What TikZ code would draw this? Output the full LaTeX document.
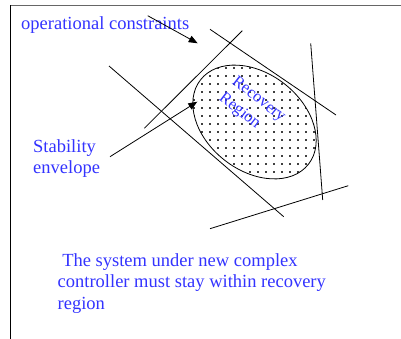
\documentclass[tikz,border=0pt]{standalone}
\usepackage{fontspec}
\setmainfont{Liberation Serif}
\usetikzlibrary{arrows.meta}
\definecolor{txtblue}{RGB}{51,51,255}
\tikzset{
  ln/.style={line width=0.8pt, black},
  arr/.style={ln, -{Triangle[length=9pt,width=7pt]}},
  lbl/.style={text=txtblue, font=\fontsize{18.5}{21.5}\selectfont, inner sep=0pt, align=left},
  dotmark/.style={fill=black!75},
}
\begin{document}
\begin{tikzpicture}[x=1pt,y=-1pt]
\useasboundingbox (0,0) rectangle (401,339);
% frame
\draw[line width=1.3pt, black!60] (10.5,5.5) -- (401,5.5);
\draw[line width=1pt, black] (10.5,5.5) -- (10.5,339);
% ellipse region with dots
\coordinate (ec) at (254.5,122);
\begin{scope}
  \clip (ec) circle[x radius=68.5, y radius=48.5, rotate=-38];
  \foreach \i in {0,...,18} {
    \foreach \j in {0,...,18} {
      \fill[dotmark] ({186+8*\i-0.9},{52+8*\j-0.9}) rectangle ++(1.8,1.8);
    }
  }
\end{scope}
\draw[ln] (ec) circle[x radius=68.5, y radius=48.5, rotate=-38];
% constraint lines
\coordinate (b1) at (210,29.3);  \coordinate (b2) at (336,115);
\coordinate (c1) at (242.3,30.7); \coordinate (c2) at (144.3,128.3);
\coordinate (d1) at (310.7,43.3); \coordinate (d2) at (322.7,200);
\coordinate (e1) at (109,66);    \coordinate (e2) at (283.7,216.7);
\coordinate (f1) at (210,228.7); \coordinate (f2) at (348.3,185.7);
\draw[ln] (b1) -- (b2);
\draw[ln] (c1) -- (c2);
\draw[ln] (d1) -- (d2);
\draw[ln] (e1) -- (e2);
\draw[ln] (f1) -- (f2);
% labels
\node[lbl, anchor=base west] (oc) at (21,30) {operational constraints};
\node[lbl, anchor=base west] (se) at (33,174) {Stability\\envelope};
\node[lbl, anchor=base west] (txt) at (57.5,309) {\ The system under new complex\\controller must stay within recovery\\region};
\node[text=txtblue, font=\fontsize{16.5}{21}\selectfont, inner sep=0pt, align=left, rotate=-38] (rr) at (252,108) {Recovery\\Region};
% arrows
\coordinate (a1s) at (147.7,15.7); \coordinate (a1t) at (197.7,43.3);
\coordinate (a2s) at (110,156.7);  \coordinate (a2t) at (197.3,101.7);
\draw[arr] (a1s) -- (a1t);
\draw[arr] (a2s) -- (a2t);
\end{tikzpicture}
\end{document}
